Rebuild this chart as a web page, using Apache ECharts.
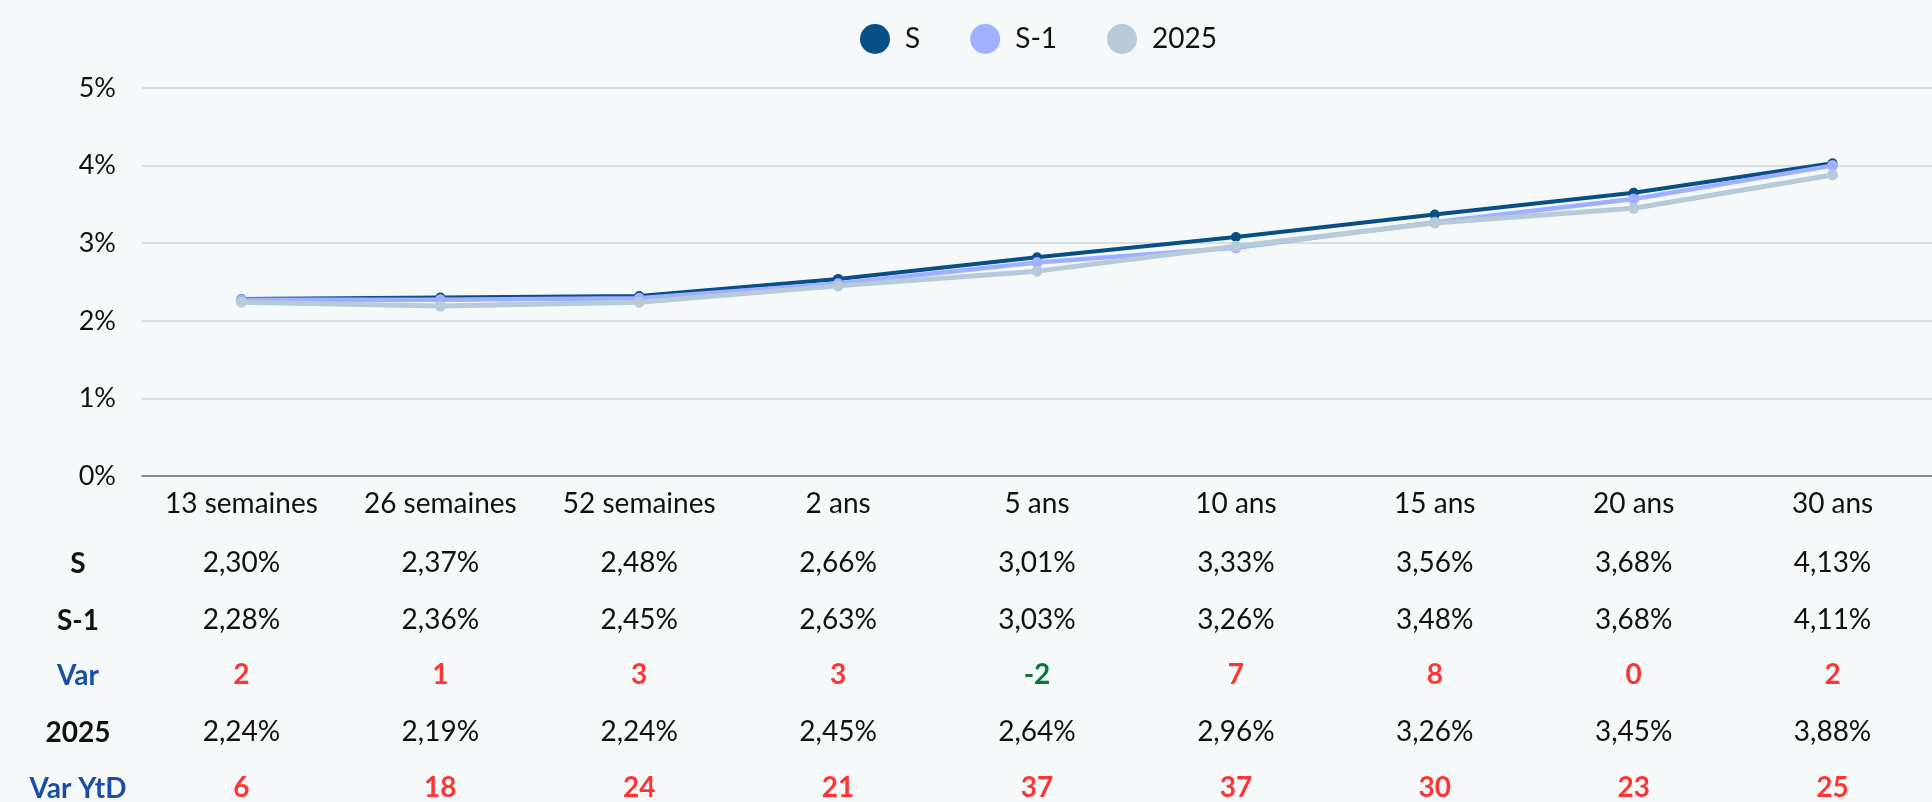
<!DOCTYPE html>
<html>
<head>
<meta charset="utf-8">
<script src="https://cdn.jsdelivr.net/npm/echarts@6/dist/echarts.min.js"></script>
<style>
  html, body { margin: 0; padding: 0; background: #f5f9fa; }
  #chart { width: 1932px; height: 802px; }
</style>
</head>
<body>
<div id="chart"></div>
<script>
// maturities on the x axis
const categories = ['13 semaines', '26 semaines', '52 semaines', '2 ans', '5 ans', '10 ans', '15 ans', '20 ans', '30 ans']

// plotted curves (%)
const curveS = [2.28, 2.30, 2.32, 2.54, 2.82, 3.08, 3.37, 3.65, 4.03]
const curveS1 = [2.27, 2.27, 2.29, 2.48, 2.75, 2.94, 3.27, 3.57, 4.00]
const curve2025 = [2.24, 2.19, 2.24, 2.45, 2.64, 2.96, 3.26, 3.45, 3.88]

// table under the chart
const rowS = ['2,30%', '2,37%', '2,48%', '2,66%', '3,01%', '3,33%', '3,56%', '3,68%', '4,13%']
const rowS1 = ['2,28%', '2,36%', '2,45%', '2,63%', '3,03%', '3,26%', '3,48%', '3,68%', '4,11%']
const rowVar = [2, 1, 3, 3, -2, 7, 8, 0, 2]
const row2025 = ['2,24%', '2,19%', '2,24%', '2,45%', '2,64%', '2,96%', '3,26%', '3,45%', '3,88%']
const rowVarYtd = [6, 18, 24, 21, 37, 37, 30, 23, 25]
const rowLabels = ['S', 'S-1', 'Var', '2025', 'Var YtD']

const FONT = 'Lato, "Open Sans", sans-serif'
const RED = '#ff3434'
const GREEN = '#08773a'
const BLUE = '#1b4ea3'

const chart = echarts.init(document.getElementById('chart'))

// one hidden x axis per table row, so cells line up with the categories
function tableAxis(data, offset, opts) {
  return {
    type: 'category',
    data: data,
    position: 'bottom',
    offset: offset,
    axisLine: { show: false },
    axisTick: { show: false },
    axisLabel: Object.assign({
      interval: 0,
      margin: 0,
      verticalAlign: 'middle',
      fontFamily: FONT,
      fontSize: 28,
      color: '#111'
    }, opts || {})
  }
}
const varColor = (v) => (Number(v) < 0 ? GREEN : RED)

const rowY = [564, 621, 676, 733, 789]

chart.setOption({
  backgroundColor: '#f5f9fa',
  animation: false,
  textStyle: { fontFamily: FONT },
  color: ['#084f86', '#9eb0ff', '#b6cad8'],
  legend: {
    top: 19,
    left: 855,
    icon: 'circle',
    itemWidth: 30,
    itemHeight: 30,
    itemGap: 50,
    formatter: '{t|{name}}',
    textStyle: {
      fontSize: 28,
      color: '#111',
      fontFamily: FONT,
      rich: { t: { fontSize: 28, color: '#111', fontFamily: FONT, padding: [0, 0, 0, 10] } }
    },
    data: ['S', 'S-1', '2025']
  },
  grid: {
    left: 142,
    top: 88,
    width: 1812,
    height: 389
  },
  xAxis: [
    {
      type: 'category',
      data: categories,
      axisLine: { lineStyle: { color: '#6b6e73', width: 1.5 } },
      axisTick: { show: false },
      axisLabel: {
        interval: 0,
        margin: 28,
        verticalAlign: 'middle',
        fontSize: 28,
        color: '#111',
        fontFamily: FONT
      }
    },
    tableAxis(rowS, rowY[0] - 477),
    tableAxis(rowS1, rowY[1] - 477),
    tableAxis(rowVar, rowY[2] - 477, { fontWeight: 'bold', color: varColor }),
    tableAxis(row2025, rowY[3] - 477),
    tableAxis(rowVarYtd, rowY[4] - 477, { fontWeight: 'bold', color: varColor })
  ],
  yAxis: {
    type: 'value',
    min: 0,
    max: 5,
    interval: 1,
    axisLine: { show: false },
    axisTick: { show: false },
    axisLabel: {
      formatter: '{value}%',
      margin: 26,
      fontSize: 27,
      color: '#111',
      fontFamily: FONT
    },
    splitLine: { lineStyle: { color: '#cfd4d8', width: 1.5 } }
  },
  graphic: rowLabels.map((t, i) => ({
    type: 'text',
    x: 78,
    y: rowY[i],
    style: {
      text: t,
      align: 'center',
      verticalAlign: 'middle',
      font: 'bold 28px ' + FONT,
      fill: (t === 'Var' || t === 'Var YtD') ? BLUE : '#111'
    }
  })),
  series: [
    {
      name: 'S',
      type: 'line',
      data: curveS,
      symbol: 'circle',
      symbolSize: 10,
      lineStyle: { width: 4 },
      emphasis: { disabled: true }
    },
    {
      name: 'S-1',
      type: 'line',
      data: curveS1,
      symbol: 'circle',
      symbolSize: 11,
      lineStyle: { width: 4.5 },
      emphasis: { disabled: true }
    },
    {
      name: '2025',
      type: 'line',
      data: curve2025,
      symbol: 'circle',
      symbolSize: 11,
      lineStyle: { width: 5 },
      emphasis: { disabled: true }
    }
  ]
})
</script>
</body>
</html>
